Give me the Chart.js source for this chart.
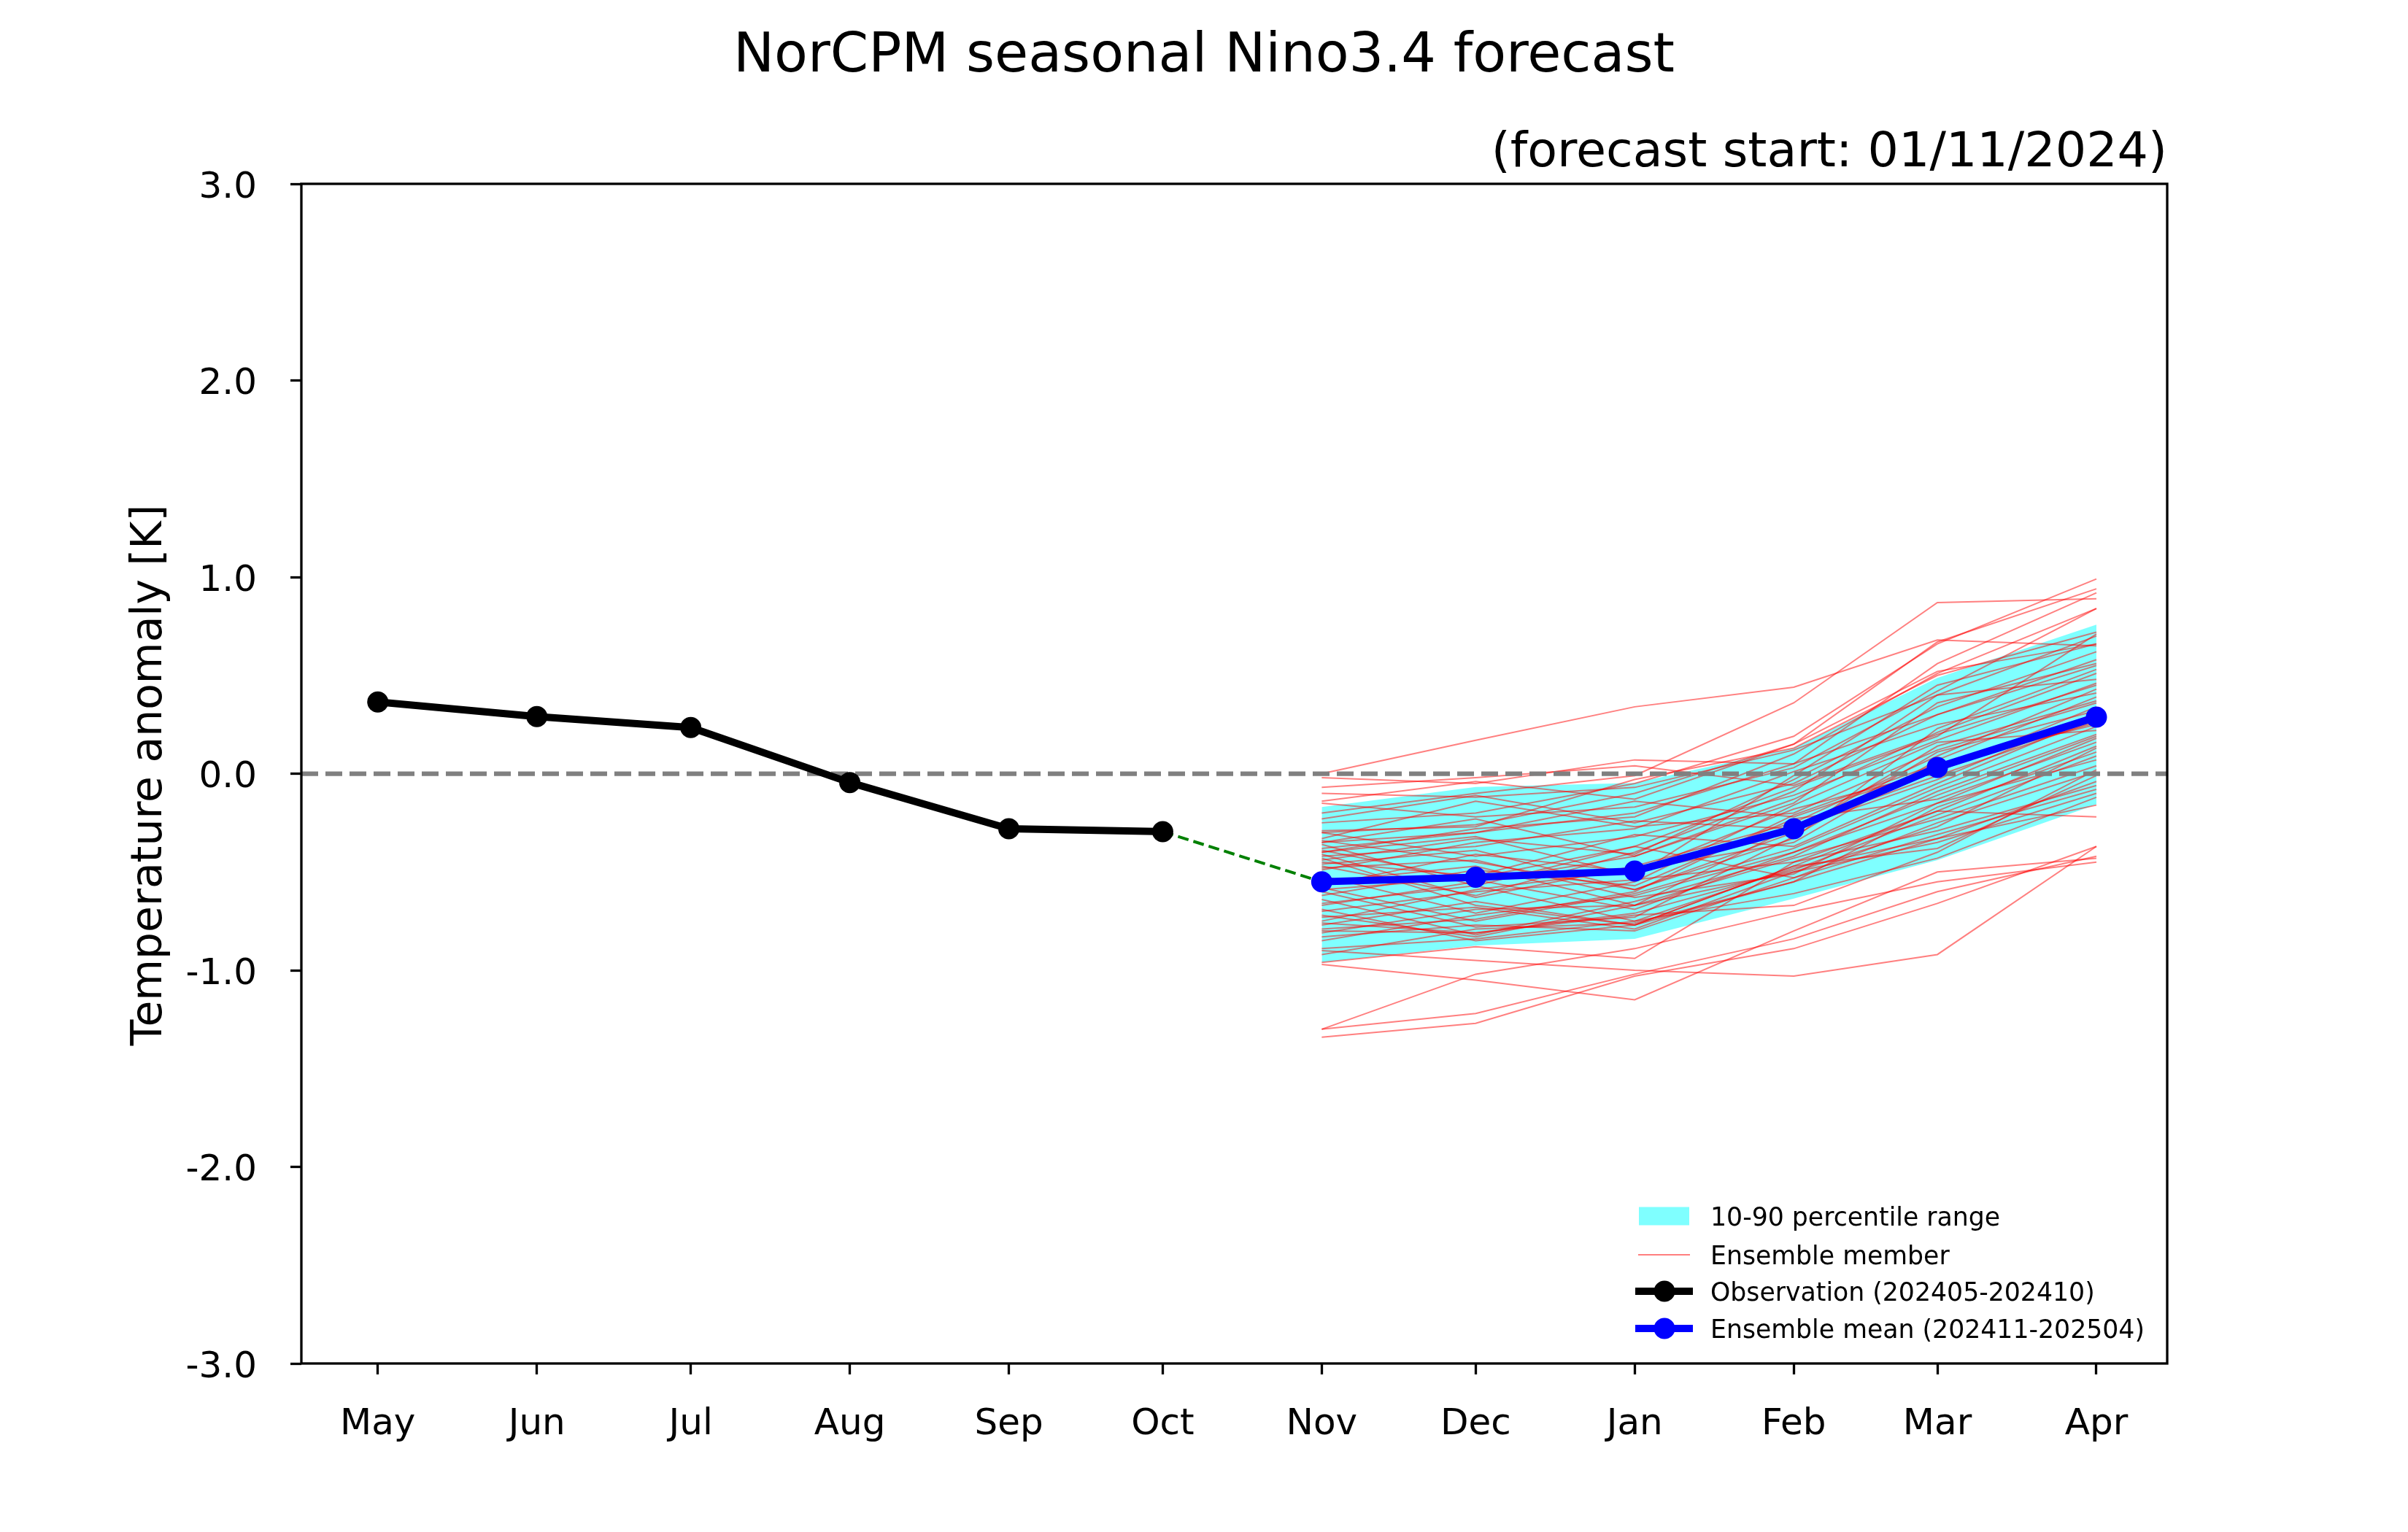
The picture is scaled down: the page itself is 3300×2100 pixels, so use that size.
<!DOCTYPE html>
<html>
<head>
<meta charset="utf-8">
<script src="https://cdn.jsdelivr.net/npm/chart.js@4.4.1/dist/chart.umd.min.js"></script>
<style>
html,body{margin:0;padding:0;background:#ffffff;}
canvas{display:block;}
</style>
</head>
<body>
<canvas id="c" width="3300" height="2100" style="width:3300px;height:2100px"></canvas>
<script>
// ---------------- data ----------------
const monthLabels = ['May','Jun','Jul','Aug','Sep','Oct','Nov','Dec','Jan','Feb','Mar','Apr'];
const monthDays   = [0, 31, 61, 92, 123, 153, 184, 214, 245, 276, 304, 335]; // days since 1 May 2024
const obsDays     = [0, 31, 61, 92, 123, 153];
const fcDays      = [184, 214, 245, 276, 304, 335];
const obsValues   = [0.365, 0.29, 0.235, -0.045, -0.28, -0.295];
const meanValues  = [-0.55, -0.527, -0.495, -0.28, 0.032, 0.288];
const p10Values   = [-0.96, -0.875, -0.84, -0.635, -0.44, -0.157];
const p90Values   = [-0.17, -0.068, -0.047, 0.13, 0.487, 0.758];
const yTickValues = [-3, -2, -1, 0, 1, 2, 3];
const yTickLabels = ['-3.0', '-2.0', '-1.0', '0.0', '1.0', '2.0', '3.0'];
const xLimits     = [-14.9, 348.8];
const yLimits     = [-3, 3];
const titleText    = 'NorCPM seasonal Nino3.4 forecast';
const subtitleText = '(forecast start: 01/11/2024)';
const yAxisTitle   = 'Temperature anomaly [K]';
const legendLabels = ['10-90 percentile range', 'Ensemble member', 'Observation (202405-202410)', 'Ensemble mean (202411-202504)'];

// ensemble members: Nov, Dec, Jan, Feb, Mar, Apr
const members = [
  [0.00, 0.17, 0.34, 0.44, 0.68, 0.65],
  [-0.20, -0.10, -0.01, 0.36, 0.87, 0.89],
  [-0.25, -0.20, -0.05, 0.19, 0.66, 0.99],
  [-0.30, -0.26, -0.10, 0.15, 0.67, 0.94],
  [-0.35, -0.30, -0.20, 0.05, 0.56, 0.92],
  [-0.40, -0.28, -0.22, 0.10, 0.51, 0.84],
  [-1.30, -1.02, -0.89, -0.70, -0.55, -0.45],
  [-1.30, -1.22, -1.02, -0.84, -0.60, -0.42],
  [-1.34, -1.27, -1.03, -0.89, -0.66, -0.37],
  [-0.97, -1.05, -1.15, -0.80, -0.50, -0.43],
  [-0.90, -0.95, -1.00, -1.03, -0.92, -0.37],
  [-0.02, -0.05, 0.07, 0.05, 0.30, 0.55],
  [-0.07, -0.02, 0.04, -0.06, 0.20, 0.45],
  [-0.10, -0.12, -0.07, 0.12, 0.40, 0.70],
  [-0.14, -0.04, -0.13, 0.15, 0.52, 0.66],
  [-0.15, -0.22, -0.17, 0.03, 0.42, 0.84],
  [-0.23, -0.11, -0.25, -0.05, 0.30, 0.58],
  [-0.29, -0.27, -0.03, 0.13, 0.50, 0.72],
  [-0.30, -0.42, -0.32, -0.11, 0.17, 0.46],
  [-0.33, -0.14, -0.27, -0.20, 0.12, 0.36],
  [-0.34, -0.45, -0.59, -0.33, 0.23, 0.53],
  [-0.35, -0.23, -0.42, -0.15, 0.36, 0.56],
  [-0.36, -0.57, -0.37, -0.07, 0.19, 0.71],
  [-0.38, -0.30, -0.14, -0.22, 0.03, 0.26],
  [-0.39, -0.54, -0.69, -0.40, -0.11, 0.19],
  [-0.40, -0.32, -0.52, -0.01, 0.45, 0.66],
  [-0.41, -0.63, -0.47, -0.25, 0.09, 0.43],
  [-0.42, -0.37, -0.24, -0.28, -0.03, 0.31],
  [-0.43, -0.67, -0.77, -0.47, -0.19, 0.14],
  [-0.44, -0.33, -0.41, -0.03, 0.34, 0.62],
  [-0.45, -0.52, -0.31, -0.37, -0.05, 0.29],
  [-0.46, -0.39, -0.59, -0.30, 0.14, 0.37],
  [-0.47, -0.62, -0.40, -0.09, 0.40, 0.48],
  [-0.48, -0.44, -0.63, -0.51, -0.15, 0.07],
  [-0.49, -0.35, -0.28, 0.01, 0.25, 0.41],
  [-0.52, -0.71, -0.55, -0.16, 0.16, 0.22],
  [-0.55, -0.47, -0.67, -0.43, -0.23, 0.04],
  [-0.57, -0.41, -0.50, -0.18, 0.01, 0.34],
  [-0.58, -0.75, -0.61, -0.38, -0.07, 0.24],
  [-0.59, -0.53, -0.37, -0.53, -0.25, 0.01],
  [-0.60, -0.78, -0.73, -0.32, 0.11, 0.32],
  [-0.62, -0.49, -0.57, -0.23, -0.13, 0.16],
  [-0.64, -0.82, -0.65, -0.42, -0.09, 0.20],
  [-0.66, -0.57, -0.75, -0.48, -0.33, -0.04],
  [-0.67, -0.55, -0.42, -0.13, 0.21, 0.51],
  [-0.69, -0.85, -0.77, -0.55, -0.17, 0.11],
  [-0.70, -0.60, -0.54, -0.45, -0.29, -0.06],
  [-0.72, -0.83, -0.67, -0.27, -0.01, 0.27],
  [-0.73, -0.68, -0.79, -0.50, -0.35, -0.10],
  [-0.75, -0.59, -0.49, -0.35, 0.07, 0.39],
  [-0.76, -0.81, -0.71, -0.49, -0.21, 0.09],
  [-0.77, -0.65, -0.77, -0.47, -0.38, -0.01],
  [-0.79, -0.74, -0.60, -0.21, 0.05, 0.25],
  [-0.80, -0.81, -0.72, -0.67, -0.40, 0.02],
  [-0.81, -0.69, -0.67, -0.50, -0.27, 0.13],
  [-0.83, -0.77, -0.80, -0.53, -0.31, -0.08],
  [-0.85, -0.72, -0.62, -0.40, -0.15, 0.18],
  [-0.89, -0.84, -0.75, -0.61, -0.43, -0.12],
  [-0.92, -0.79, -0.76, -0.55, -0.33, -0.16],
  [-0.96, -0.88, -0.94, -0.45, -0.19, -0.22]
];

// ---------------- styles ----------------
const FONT = 'DejaVu Sans';
const CYAN = 'rgba(0,255,255,0.5)';
const RED = 'rgba(255,0,0,0.5)';

const toPts = (xs, ys) => ys.map((y, i) => ({x: xs[i], y: y}));

const datasets = [
  {
    label: 'mean', data: toPts(fcDays, meanValues),
    borderColor: '#0000ff', backgroundColor: '#0000ff', borderWidth: 10,
    borderCapStyle: 'square', borderJoinStyle: 'round',
    pointRadius: 14.5, pointHoverRadius: 14.5, pointBorderWidth: 0,
    pointBackgroundColor: '#0000ff', fill: false, order: 0
  },
  {
    label: 'obs', data: toPts(obsDays, obsValues),
    borderColor: '#000000', backgroundColor: '#000000', borderWidth: 10,
    borderCapStyle: 'square', borderJoinStyle: 'round',
    pointRadius: 14.5, pointHoverRadius: 14.5, pointBorderWidth: 0,
    pointBackgroundColor: '#000000', fill: false, order: 1
  },
  {
    label: 'link',
    data: [{x: obsDays[obsDays.length - 1], y: obsValues[obsValues.length - 1]}, {x: fcDays[0], y: meanValues[0]}],
    borderColor: '#008000', borderWidth: 4, borderDash: [15, 7],
    pointRadius: 0, fill: false, order: 2
  },
  {
    label: 'zero',
    data: [{x: xLimits[0], y: 0}, {x: xLimits[1], y: 0}],
    borderColor: '#808080', borderWidth: 6.25, borderDash: [23, 10],
    pointRadius: 0, fill: false, order: 3
  }
];
members.forEach((m, k) => {
  datasets.push({
    label: 'member' + k, data: toPts(fcDays, m),
    borderColor: RED, borderWidth: 2, pointRadius: 0, fill: false, order: 4
  });
});
datasets.push({
  label: 'p90', data: toPts(fcDays, p90Values),
  borderColor: 'rgba(0,0,0,0)', borderWidth: 1, backgroundColor: CYAN,
  pointRadius: 0, fill: '+1', order: 5
});
datasets.push({
  label: 'p10', data: toPts(fcDays, p10Values),
  borderColor: 'rgba(0,0,0,0)', borderWidth: 1,
  pointRadius: 0, fill: false, order: 6
});

const decor = {
  id: 'decor',
  afterDatasetsDraw(chart) {
    const ctx = chart.ctx, a = chart.chartArea;
    ctx.save();
    ctx.strokeStyle = '#000';
    ctx.lineWidth = 3.3;
    ctx.strokeRect(a.left, a.top, a.right - a.left, a.bottom - a.top);
    ctx.restore();
  },
  afterDraw(chart) {
    const ctx = chart.ctx, a = chart.chartArea, ys = chart.scales.y;
    ctx.save();
    ctx.fillStyle = '#000';
    // y tick labels (cap-centred on tick)
    ctx.font = '50px "' + FONT + '"';
    ctx.textAlign = 'right';
    ctx.textBaseline = 'alphabetic';
    yTickValues.forEach((v, i) => {
      ctx.fillText(yTickLabels[i], a.left - 61, ys.getPixelForValue(v) + 18.5);
    });
    // title
    ctx.font = '75px "' + FONT + '"';
    ctx.textAlign = 'center';
    ctx.fillText(titleText, chart.width / 2, 98);
    // subtitle
    ctx.font = '66.7px "' + FONT + '"';
    ctx.textAlign = 'right';
    ctx.fillText(subtitleText, a.right, 228);
    // y axis title
    ctx.save();
    ctx.translate(221, (a.top + a.bottom) / 2 + 2);
    ctx.rotate(-Math.PI / 2);
    ctx.font = '58.3px "' + FONT + '"';
    ctx.textAlign = 'center';
    ctx.textBaseline = 'alphabetic';
    ctx.fillText(yAxisTitle, 0, 0);
    ctx.restore();

    // legend
    const rows = [1667, 1720, 1770, 1821];
    const hx0 = 2246, hx1 = 2315, hxc = 2281, tx = 2344;
    ctx.fillStyle = CYAN;
    ctx.fillRect(hx0, rows[0] - 12.5, hx1 - hx0, 25);
    ctx.strokeStyle = RED;
    ctx.lineWidth = 2;
    ctx.lineCap = 'square';
    ctx.beginPath(); ctx.moveTo(hx0, rows[1]); ctx.lineTo(hx1, rows[1]); ctx.stroke();
    [['#000000', rows[2]], ['#0000ff', rows[3]]].forEach(([col, y]) => {
      ctx.strokeStyle = col; ctx.fillStyle = col;
      ctx.lineWidth = 10; ctx.lineCap = 'square';
      ctx.beginPath(); ctx.moveTo(hx0, y); ctx.lineTo(hx1, y); ctx.stroke();
      ctx.beginPath(); ctx.arc(hxc, y, 14.5, 0, Math.PI * 2); ctx.fill();
    });
    ctx.fillStyle = '#000';
    ctx.font = '34.7px "' + FONT + '"';
    ctx.textAlign = 'left';
    ctx.textBaseline = 'alphabetic';
    legendLabels.forEach((t, i) => ctx.fillText(t, tx, rows[i] + 12.7));
    ctx.restore();
  }
};

new Chart(document.getElementById('c'), {
  type: 'line',
  data: {datasets: datasets},
  options: {
    responsive: false,
    devicePixelRatio: 1,
    animation: false,
    events: [],
    layout: {padding: {left: 0, right: 330, top: 252, bottom: 0}},
    plugins: {legend: {display: false}, tooltip: {enabled: false}, title: {display: false}},
    elements: {line: {tension: 0}},
    scales: {
      x: {
        type: 'linear', min: xLimits[0], max: xLimits[1],
        afterBuildTicks: s => { s.ticks = monthDays.map(v => ({value: v})); },
        afterFit: s => { s.height = 231; },
        ticks: {
          autoSkip: false, maxRotation: 0, minRotation: 0, padding: 39, color: '#000',
          font: {family: FONT, size: 50},
          callback: v => { const i = monthDays.indexOf(v); return i >= 0 ? monthLabels[i] : ''; }
        },
        grid: {display: true, drawOnChartArea: false, drawTicks: true, tickLength: 15, tickWidth: 3.3, tickColor: '#000'},
        border: {display: false}
      },
      y: {
        type: 'linear', min: yLimits[0], max: yLimits[1],
        afterBuildTicks: s => { s.ticks = yTickValues.map(v => ({value: v})); },
        afterFit: s => { s.width = 413; },
        ticks: {
          padding: 46, color: 'rgba(0,0,0,0)', font: {family: FONT, size: 50},
          callback: v => { const i = yTickValues.indexOf(v); return i >= 0 ? yTickLabels[i] : ''; }
        },
        grid: {display: true, drawOnChartArea: false, drawTicks: true, tickLength: 15, tickWidth: 3.3, tickColor: '#000'},
        border: {display: false}
      }
    }
  },
  plugins: [decor]
});
</script>
</body>
</html>
